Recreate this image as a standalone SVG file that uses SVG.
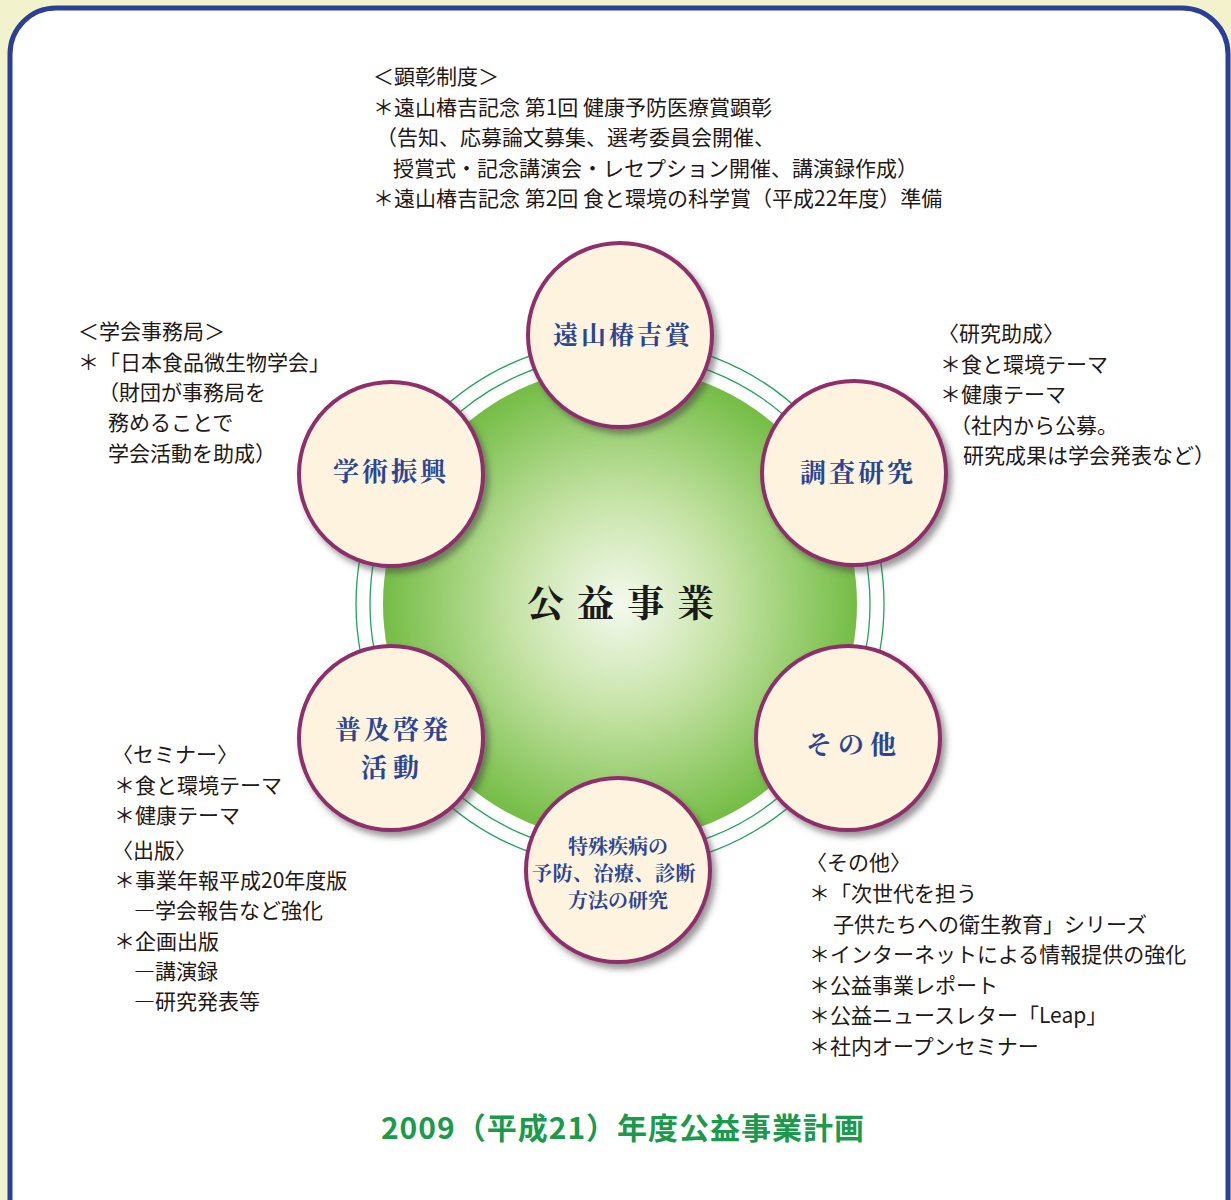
<svg xmlns="http://www.w3.org/2000/svg" width="1231" height="1200" viewBox="0 0 1231 1200">
<defs>
<radialGradient id="g" cx="0.5" cy="0.5" r="0.5">
<stop offset="0" stop-color="#f4f9ee"/>
<stop offset="0.45" stop-color="#c6e3a6"/>
<stop offset="1" stop-color="#74bd45"/>
</radialGradient>
<filter id="sh" x="-20%" y="-20%" width="150%" height="150%">
<feDropShadow dx="4" dy="5" stdDeviation="3" flood-color="#444" flood-opacity="0.55"/>
</filter>
<style>
.node circle{fill:#fdf3de;stroke:#8e2f6a;stroke-width:4;filter:url(#sh)}
.lbl{font-family:"Noto Serif CJK JP","Noto Sans CJK JP",serif;font-weight:bold;fill:#2a4596;text-anchor:middle}
.t{font-family:"Noto Sans CJK JP","Noto Sans CJK SC",sans-serif;font-size:21px;fill:#231815}
.ring{fill:none;stroke:#1fa55a;stroke-width:1.3}
</style>
</defs>
<rect x="0" y="0" width="1231" height="1200" fill="#f2f3cd"/>
<rect x="10" y="8" width="1218" height="1240" rx="46" ry="46" fill="#ffffff" stroke="#2b3f96" stroke-width="5"/>

<g id="connectors">
<circle class="ring" cx="620" cy="604" r="264"/>
<circle class="ring" cx="620" cy="604" r="250"/>
</g>

<g id="center">
<circle cx="620" cy="604" r="237" fill="url(#g)"/>
<text x="627" y="617" font-family="'Noto Serif CJK JP','Noto Sans CJK JP',serif" font-weight="bold" font-size="37" letter-spacing="13" fill="#1a1a1a" text-anchor="middle">公益事業</text>
</g>

<g id="node-touyama" class="node">
<circle cx="620" cy="335" r="92"/>
<text class="lbl" x="623" y="344" font-size="25" letter-spacing="3">遠山椿吉賞</text>
</g>
<g id="node-chousa" class="node">
<circle cx="854" cy="473" r="92"/>
<text class="lbl" x="858" y="482" font-size="26" letter-spacing="3">調査研究</text>
</g>
<g id="node-sonota" class="node">
<circle cx="848" cy="738" r="92"/>
<text class="lbl" x="854" y="754" font-size="26" letter-spacing="6">その他</text>
</g>
<g id="node-tokushu" class="node">
<circle cx="618" cy="870" r="92"/>
<text class="lbl" x="618" y="854" font-size="20">特殊疾病の</text>
<text class="lbl" x="614" y="881" font-size="20" letter-spacing="0.5">予防、治療、診断</text>
<text class="lbl" x="618" y="908" font-size="20">方法の研究</text>
</g>
<g id="node-fukyu" class="node">
<circle cx="391" cy="738" r="92"/>
<text class="lbl" x="393" y="739" font-size="26" letter-spacing="3">普及啓発</text>
<text class="lbl" x="393" y="777" font-size="26" letter-spacing="6">活動</text>
</g>
<g id="node-gakujutsu" class="node">
<circle cx="391" cy="474" r="92"/>
<text class="lbl" x="391" y="481" font-size="26" letter-spacing="3">学術振興</text>
</g>

<g id="text-top">
<text class="t" x="373" y="84">＜顕彰制度＞</text>
<text class="t" x="373" y="115">＊遠山椿吉記念 第1回 健康予防医療賞顕彰</text>
<text class="t" x="376" y="145">（告知、応募論文募集、選考委員会開催、</text>
<text class="t" x="393" y="176">授賞式・記念講演会・レセプション開催、講演録作成）</text>
<text class="t" x="373" y="206">＊遠山椿吉記念 第2回 食と環境の科学賞（平成22年度）準備</text>
</g>

<g id="text-left">
<text class="t" x="78" y="339">＜学会事務局＞</text>
<text class="t" x="78" y="370">＊「日本食品微生物学会」</text>
<text class="t" x="98" y="400">（財団が事務局を</text>
<text class="t" x="108" y="430">務めることで</text>
<text class="t" x="108" y="461">学会活動を助成）</text>
</g>

<g id="text-right">
<text class="t" x="938" y="341">〈研究助成〉</text>
<text class="t" x="940" y="372">＊食と環境テーマ</text>
<text class="t" x="940" y="402">＊健康テーマ</text>
<text class="t" x="950" y="433">（社内から公募。</text>
<text class="t" x="963" y="463">研究成果は学会発表など）</text>
</g>

<g id="text-bottom-left">
<text class="t" x="112" y="762">〈セミナー〉</text>
<text class="t" x="114" y="793">＊食と環境テーマ</text>
<text class="t" x="114" y="823">＊健康テーマ</text>
<text class="t" x="112" y="858">〈出版〉</text>
<text class="t" x="114" y="888">＊事業年報平成20年度版</text>
<text class="t" x="134" y="918">―学会報告など強化</text>
<text class="t" x="114" y="949">＊企画出版</text>
<text class="t" x="134" y="979">―講演録</text>
<text class="t" x="134" y="1009">―研究発表等</text>
</g>

<g id="text-bottom-right">
<text class="t" x="806" y="870">〈その他〉</text>
<text class="t" x="809" y="901">＊「次世代を担う</text>
<text class="t" x="833" y="932">子供たちへの衛生教育」シリーズ</text>
<text class="t" x="809" y="962">＊インターネットによる情報提供の強化</text>
<text class="t" x="809" y="993">＊公益事業レポート</text>
<text class="t" x="809" y="1023">＊公益ニュースレター「Leap」</text>
<text class="t" x="809" y="1054">＊社内オープンセミナー</text>
</g>

<g id="title">
<text x="623" y="1139" font-family="'Noto Sans CJK JP',sans-serif" font-weight="bold" font-size="30" letter-spacing="1" fill="#1b9a4b" text-anchor="middle">2009（平成21）年度公益事業計画</text>
</g>
</svg>
